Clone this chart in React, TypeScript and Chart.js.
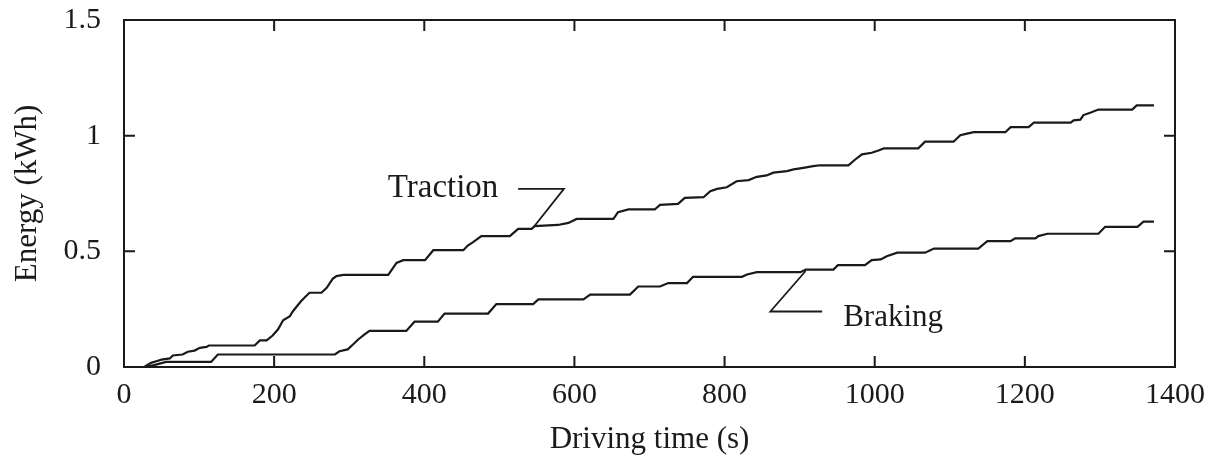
import React, { useEffect, useRef } from "react";
import { Chart, registerables } from "chart.js";

Chart.register(...registerables);

// ---- data (time in s, energy in kWh) ----
const tractionTime = [27, 36, 43, 50, 61, 65, 78, 85, 94, 101, 110, 113, 174, 181, 190, 198, 205, 212, 221, 225, 236, 247, 263, 270, 278, 283, 292, 352, 363, 372, 401, 412, 452, 458, 465, 476, 514, 525, 543, 547, 578, 592, 603, 652, 658, 672, 707, 714, 738, 747, 772, 781, 790, 803, 816, 832, 843, 856, 865, 883, 892, 905, 918, 927, 965, 974, 983, 996, 1005, 1012, 1058, 1067, 1105, 1114, 1123, 1132, 1174, 1181, 1205, 1212, 1261, 1265, 1274, 1278, 1287, 1298, 1343, 1349, 1372];
const tractionEnergy = [0, 0.018, 0.025, 0.032, 0.037, 0.05, 0.054, 0.066, 0.071, 0.083, 0.087, 0.093, 0.093, 0.115, 0.115, 0.136, 0.162, 0.202, 0.22, 0.241, 0.285, 0.321, 0.321, 0.342, 0.381, 0.393, 0.398, 0.398, 0.45, 0.462, 0.462, 0.505, 0.505, 0.525, 0.54, 0.566, 0.566, 0.597, 0.597, 0.609, 0.614, 0.623, 0.64, 0.64, 0.669, 0.681, 0.681, 0.701, 0.705, 0.731, 0.734, 0.76, 0.77, 0.777, 0.803, 0.808, 0.822, 0.828, 0.84, 0.847, 0.854, 0.861, 0.868, 0.872, 0.872, 0.897, 0.919, 0.926, 0.936, 0.945, 0.945, 0.974, 0.974, 1.002, 1.009, 1.015, 1.015, 1.037, 1.037, 1.056, 1.056, 1.066, 1.069, 1.089, 1.099, 1.113, 1.113, 1.131, 1.131];

const brakingTime = [27, 40, 56, 116, 125, 281, 287, 298, 305, 312, 320, 327, 376, 387, 418, 427, 485, 496, 545, 552, 612, 621, 674, 685, 714, 725, 750, 758, 823, 830, 843, 901, 908, 945, 951, 987, 996, 1008, 1016, 1030, 1067, 1079, 1138, 1150, 1181, 1187, 1214, 1218, 1230, 1298, 1307, 1350, 1358, 1372];
const brakingEnergy = [0, 0.008, 0.022, 0.022, 0.054, 0.054, 0.068, 0.076, 0.097, 0.119, 0.14, 0.156, 0.156, 0.196, 0.196, 0.231, 0.231, 0.272, 0.272, 0.292, 0.292, 0.313, 0.313, 0.348, 0.348, 0.363, 0.363, 0.39, 0.39, 0.4, 0.41, 0.41, 0.421, 0.421, 0.44, 0.44, 0.462, 0.465, 0.479, 0.494, 0.494, 0.512, 0.512, 0.544, 0.544, 0.556, 0.556, 0.566, 0.576, 0.576, 0.606, 0.606, 0.628, 0.628];

const xTicks = [0, 200, 400, 600, 800, 1000, 1200, 1400];
const xTickLabels = ["0", "200", "400", "600", "800", "1000", "1200", "1400"];
const yTicks = [0, 0.5, 1, 1.5];
const yTickLabels = ["0", "0.5", "1", "1.5"];

const xTitle = "Driving time (s)";
const yTitle = "Energy (kWh)";

// annotations (data units)
const tractionLabel = "Traction";
const tractionLabelAt = [425, 0.773];
const tractionLeaderTime = [525, 586, 546];
const tractionLeaderEnergy = [0.77, 0.77, 0.606];

const brakingLabel = "Braking";
const brakingLabelAt = [958, 0.213];
const brakingLeaderTime = [930, 861, 908];
const brakingLeaderEnergy = [0.24, 0.24, 0.415];

const INK = "#1a1a1a";
const FONT = "'Liberation Serif', 'Times New Roman', serif";

const framePlugin = {
  id: "frame",
  afterDatasetsDraw(chart: any) {
    const { ctx, chartArea: a, scales } = chart;
    const xs = scales.x;
    const ys = scales.y;
    ctx.save();
    ctx.strokeStyle = INK;
    ctx.lineWidth = 2;
    ctx.strokeRect(a.left, a.top, a.right - a.left, a.bottom - a.top);
    const L = 11;
    ctx.beginPath();
    xTicks.forEach((v) => {
      const px = xs.getPixelForValue(v);
      ctx.moveTo(px, a.bottom);
      ctx.lineTo(px, a.bottom - L);
      ctx.moveTo(px, a.top);
      ctx.lineTo(px, a.top + L);
    });
    yTicks.forEach((v) => {
      const py = ys.getPixelForValue(v);
      ctx.moveTo(a.left, py);
      ctx.lineTo(a.left + L, py);
      ctx.moveTo(a.right, py);
      ctx.lineTo(a.right - L, py);
    });
    ctx.stroke();

    const leader = (ts: number[], es: number[]) => {
      ctx.beginPath();
      ts.forEach((t, i) => {
        const px = xs.getPixelForValue(t);
        const py = ys.getPixelForValue(es[i]);
        if (i === 0) ctx.moveTo(px, py);
        else ctx.lineTo(px, py);
      });
      ctx.stroke();
    };
    ctx.lineWidth = 1.8;
    leader(tractionLeaderTime, tractionLeaderEnergy);
    leader(brakingLeaderTime, brakingLeaderEnergy);

    ctx.fillStyle = INK;
    ctx.textBaseline = "middle";
    ctx.font = `33px ${FONT}`;
    ctx.textAlign = "center";
    ctx.fillText(tractionLabel, xs.getPixelForValue(tractionLabelAt[0]), ys.getPixelForValue(tractionLabelAt[1]));
    ctx.font = `31px ${FONT}`;
    ctx.textAlign = "left";
    ctx.fillText(brakingLabel, xs.getPixelForValue(brakingLabelAt[0]), ys.getPixelForValue(brakingLabelAt[1]));
    ctx.restore();
  },
};

export default function App() {
  const ref = useRef<HTMLCanvasElement | null>(null);

  useEffect(() => {
    if (!ref.current) return;
    const toPts = (ts: number[], es: number[]) => ts.map((t, i) => ({ x: t, y: es[i] }));
    const chart = new Chart(ref.current, {
      type: "scatter",
      data: {
        datasets: [
          {
            label: "Traction",
            data: toPts(tractionTime, tractionEnergy),
            showLine: true,
            borderColor: INK,
            borderWidth: 2.2,
            pointRadius: 0,
            tension: 0,
          },
          {
            label: "Braking",
            data: toPts(brakingTime, brakingEnergy),
            showLine: true,
            borderColor: INK,
            borderWidth: 2.2,
            pointRadius: 0,
            tension: 0,
          },
        ],
      },
      options: {
        animation: false,
        responsive: false,
        events: [],
        layout: { padding: { top: 20, right: 37, left: 0, bottom: 0 } },
        plugins: { legend: { display: false }, tooltip: { enabled: false } },
        scales: {
          x: {
            type: "linear",
            min: 0,
            max: 1400,
            afterBuildTicks: (s: any) => {
              s.ticks = xTicks.map((v) => ({ value: v }));
            },
            afterFit: (s: any) => {
              s.height = 92;
              s.paddingLeft = 0;
              s.paddingRight = 0;
            },
            grid: { display: false, drawTicks: false },
            border: { display: false },
            ticks: {
              color: INK,
              padding: 10,
              maxRotation: 0,
              autoSkip: false,
              font: { family: FONT, size: 30 },
              callback: (v: any) => {
                const i = xTicks.indexOf(Number(v));
                return i >= 0 ? xTickLabels[i] : "";
              },
            },
            title: {
              display: true,
              text: xTitle,
              color: INK,
              font: { family: FONT, size: 31 },
              padding: { top: 0, bottom: 1 },
            },
          },
          y: {
            type: "linear",
            min: 0,
            max: 1.5,
            afterBuildTicks: (s: any) => {
              s.ticks = yTicks.map((v) => ({ value: v }));
            },
            afterFit: (s: any) => {
              s.width = 124;
              s.paddingTop = 0;
              s.paddingBottom = 0;
            },
            grid: { display: false, drawTicks: false },
            border: { display: false },
            ticks: {
              color: INK,
              padding: 23,
              font: { family: FONT, size: 30 },
              callback: (v: any) => {
                const i = yTicks.indexOf(Number(v));
                return i >= 0 ? yTickLabels[i] : "";
              },
            },
            title: {
              display: true,
              text: yTitle,
              color: INK,
              font: { family: FONT, size: 31 },
              padding: { top: 9, bottom: 0 },
            },
          },
        },
      },
      plugins: [framePlugin],
    });
    return () => chart.destroy();
  }, []);

  return (
    <div style={{ position: "fixed", left: 0, top: 0, width: 1212, height: 459, background: "#fff" }}>
      <canvas ref={ref} width={1212} height={459} style={{ width: 1212, height: 459, display: "block" }} />
    </div>
  );
}
